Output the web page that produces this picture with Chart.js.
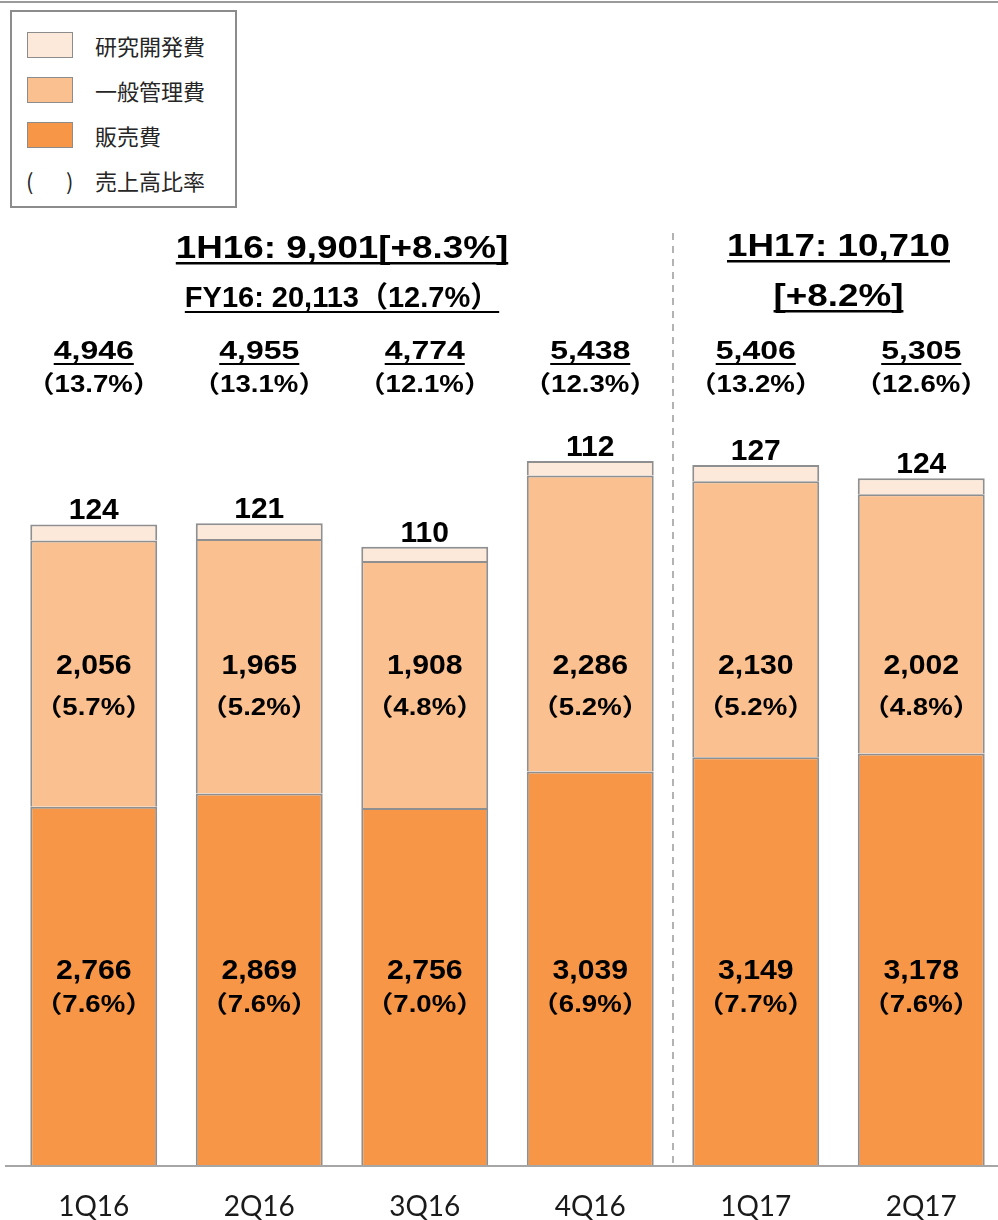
<!DOCTYPE html>
<html>
<head>
<meta charset="utf-8">
<script src="https://cdn.jsdelivr.net/npm/chart.js@4.4.1/dist/chart.umd.min.js"></script>
<style>
  html, body { margin: 0; padding: 0; background: #fff; overflow: hidden; }
  #wrap { position: relative; width: 998px; height: 1220px; overflow: hidden; }
  #topline { position: absolute; left: 0; top: 1px; width: 1000px; height: 2px; background: #9a9a9a; z-index: 2; }
  #legend {
    position: absolute; left: 10px; top: 10px; width: 223px; height: 194px;
    border: 2px solid #8c8c8c; background: #fff;
    font-family: "Noto Sans CJK JP", sans-serif; font-size: 22px; color: #262626;
  }
  .row { position: absolute; left: 0; height: 30px; line-height: 30px; }
  .sw { position: absolute; left: 15px; top: 2px; width: 44px; height: 24px; border: 1px solid #8c8c8c; }
  .lbl { position: absolute; left: 83px; top: 0; white-space: nowrap; }
  .par { position: absolute; top: 0; }
  canvas { position: absolute; left: 0; top: 0; }
</style>
</head>
<body>
<div id="wrap">
  <canvas id="chart" width="1010" height="1249"></canvas>
  <div id="topline"></div>
  <div id="legend"></div>
</div>
<script>
// chart data
const categories = ['1Q16', '2Q16', '3Q16', '4Q16', '1Q17', '2Q17'];
const sellingExp = [2766, 2869, 2756, 3039, 3149, 3178];
const sellingPct = [7.6, 7.6, 7.0, 6.9, 7.7, 7.6];
const adminExp = [2056, 1965, 1908, 2286, 2130, 2002];
const adminPct = [5.7, 5.2, 4.8, 5.2, 5.2, 4.8];
const rdExp = [124, 121, 110, 112, 127, 124];
const totalExp = [4946, 4955, 4774, 5438, 5406, 5305];
const totalPct = [13.7, 13.1, 12.1, 12.3, 13.2, 12.6];
const fy16Lines = ['1H16: 9,901[+8.3%]', 'FY16: 20,113（12.7%）'];
const fy17Lines = ['1H17: 10,710', '[+8.2%]'];

const colors = { selling: '#F79646', admin: '#FAC090', rd: '#FDE9D9', border: '#8f8f8f' };

//legend as html
const legendItems = [
    { name: '研究開発費', color: colors.rd },
    { name: '一般管理費', color: colors.admin },
    { name: '販売費', color: colors.selling }
];
const legendEl = document.getElementById('legend');
legendItems.forEach((item, i) => {
    const row = document.createElement('div');
    row.className = 'row';
    row.style.top = (18 + i * 45) + 'px';
    row.style.width = '220px';
    row.innerHTML = '<div class="sw" style="background:' + item.color + '"></div><div class="lbl">' + item.name + '</div>';
    legendEl.appendChild(row);
});
const ratioRow = document.createElement('div');
ratioRow.className = 'row';
ratioRow.style.top = '153px';
ratioRow.style.width = '220px';
ratioRow.innerHTML = '<span class="par" style="left:14px">(</span><span class="par" style="left:54px">)</span><div class="lbl">売上高比率</div>';
legendEl.appendChild(ratioRow);

const fmt = v => v.toLocaleString('en-US');
const pct = v => '（' + v.toFixed(1) + '%）';

//text with horizontal stretch + optional underline
function drawText(ctx, text, x, y, size, sx, underline) {
    ctx.save();
    ctx.font = 'bold ' + size + 'px "Liberation Sans", Arial, "Noto Sans CJK JP", sans-serif';
    ctx.textAlign = 'center';
    ctx.textBaseline = 'alphabetic';
    ctx.fillStyle = '#000';
    ctx.translate(x, y);
    ctx.scale(sx, 1);
    ctx.fillText(text, 0, 0);
    if (underline) {
        const w = ctx.measureText(text).width;
        ctx.fillRect(-w / 2, 4, w, underline);
    }
    ctx.restore();
}

const labelsPlugin = {
    id: 'labels',
    afterDatasetsDraw(chart) {
        const ctx = chart.ctx;
        const area = chart.chartArea;
        const sales = chart.getDatasetMeta(0).data;
        const rd = chart.getDatasetMeta(2).data;

        //baseline
        ctx.save();
        ctx.strokeStyle = '#a6a6a6';
        ctx.lineWidth = 2;
        ctx.beginPath();
        ctx.moveTo(5, area.bottom + 1);
        ctx.lineTo(chart.width, area.bottom + 1);
        ctx.stroke();

        //dashed divider between FY16 and FY17
        const divX = (rd[3].x + rd[4].x) / 2;
        ctx.strokeStyle = '#9a9a9a';
        ctx.lineWidth = 1.5;
        ctx.setLineDash([7, 6]);
        ctx.beginPath();
        ctx.moveTo(divX, 233);
        ctx.lineTo(divX, area.bottom);
        ctx.stroke();
        ctx.restore();

        categories.forEach((c, i) => {
            const x = sales[i].x;
            drawText(ctx, fmt(sellingExp[i]), x, area.bottom - 186, 27, 1.12, 0);
            drawText(ctx, pct(sellingPct[i]), x, area.bottom - 153, 24, 1.15, 0);
            drawText(ctx, fmt(adminExp[i]), x, area.bottom - 491, 27, 1.12, 0);
            drawText(ctx, pct(adminPct[i]), x, area.bottom - 450, 24, 1.15, 0);
            drawText(ctx, fmt(rdExp[i]), x, rd[i].y - 5, 30, 1, 0);
            drawText(ctx, fmt(totalExp[i]), x, area.top - 29, 25, 1.28, 2);
            drawText(ctx, pct(totalPct[i]), x, area.top + 4, 24, 1.15, 0);
        });

        //period headers
        const x16 = (sales[0].x + sales[3].x) / 2;
        const x17 = (sales[4].x + sales[5].x) / 2;
        drawText(ctx, fy16Lines[0], x16, 258, 32, 1.15, 2.5);
        drawText(ctx, fy16Lines[1], x16, 307, 29, 1, 2);
        drawText(ctx, fy17Lines[0], x17, 256, 32, 1.15, 2.5);
        drawText(ctx, fy17Lines[1], x17, 306, 32, 1.15, 2.5);
    }
};

const barCommon = {
    borderColor: colors.border,
    borderWidth: 2,
    barPercentage: 0.767,
    categoryPercentage: 1
};

new Chart(document.getElementById('chart'), {
    type: 'bar',
    data: {
        labels: categories,
        datasets: [
            Object.assign({ label: '販売費', data: sellingExp, backgroundColor: colors.selling }, barCommon),
            Object.assign({ label: '一般管理費', data: adminExp, backgroundColor: colors.admin }, barCommon),
            Object.assign({ label: '研究開発費', data: rdExp, backgroundColor: colors.rd }, barCommon)
        ]
    },
    options: {
        responsive: false,
        animation: false,
        devicePixelRatio: 1,
        layout: { padding: { top: 388, left: 11, right: 6, bottom: 0 } },
        scales: {
            x: {
                stacked: true,
                grid: { display: false, drawTicks: false },
                border: { display: false },
                ticks: {
                    color: '#1a1a1a',
                    padding: 28,
                    maxRotation: 0,
                    font: { family: 'Lato, "Noto Sans", sans-serif', size: 28, lineHeight: 1 }
                }
            },
            y: {
                stacked: true,
                display: false,
                min: 0,
                max: 6000
            }
        },
        plugins: {
            legend: { display: false },
            tooltip: { enabled: false }
        }
    },
    plugins: [labelsPlugin]
});
</script>
</body>
</html>
